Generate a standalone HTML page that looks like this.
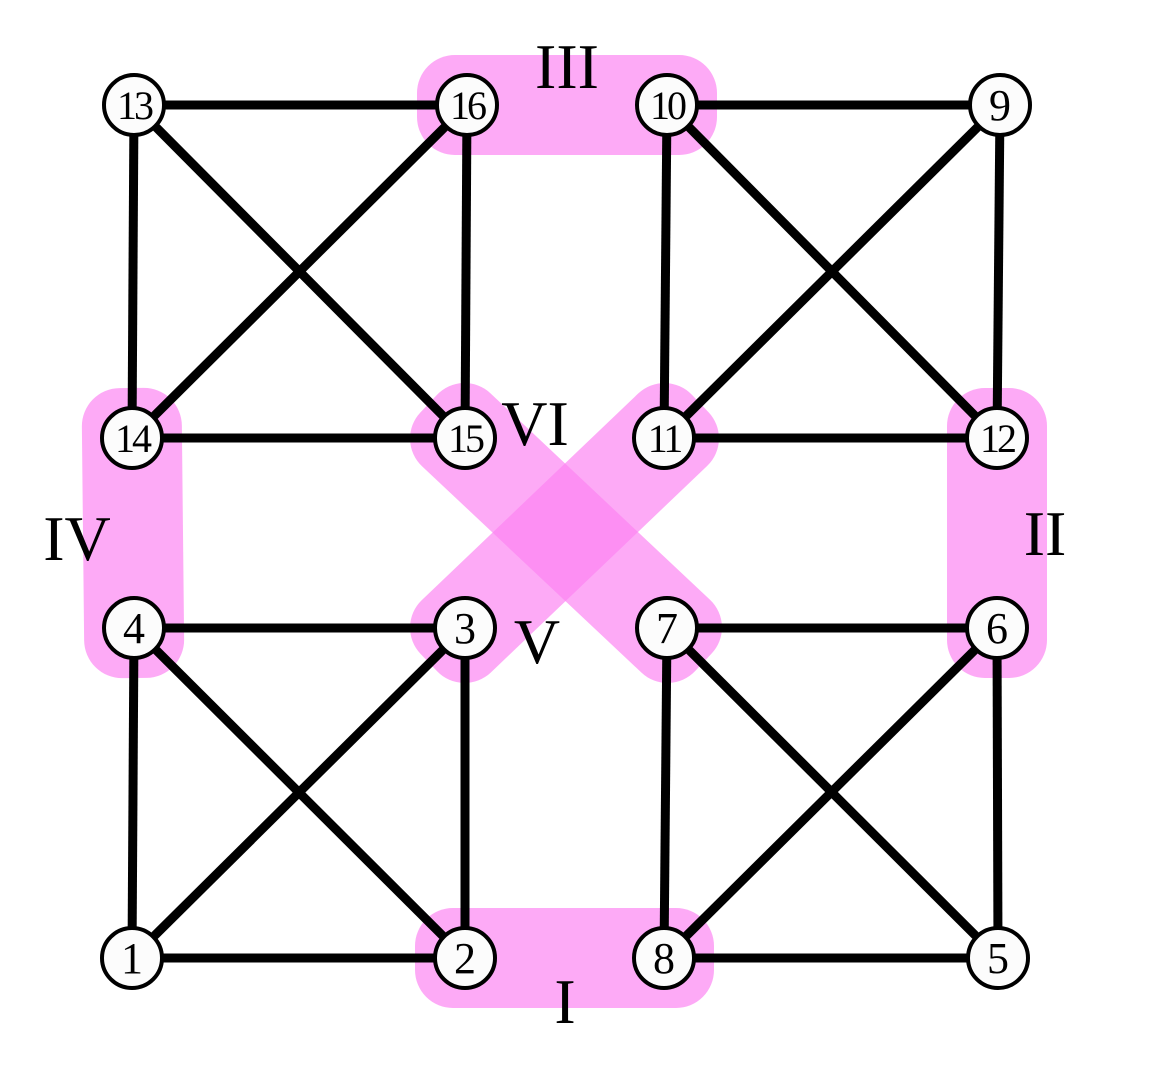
<!DOCTYPE html>
<html><head><meta charset="utf-8"><style>
html,body{margin:0;padding:0;background:#fff;}
svg{display:block;}
text{font-family:"Liberation Serif","DejaVu Serif",serif;}
</style></head><body>
<svg id="g" width="1154" height="1075" viewBox="0 0 1154 1075" xmlns="http://www.w3.org/2000/svg">
<g id="bands"></g>
<g id="edges"></g>
<g id="nodes"></g>
<g id="labels"></g>
</svg>
<script>
const nodeIds=[13,16,10,9,14,15,11,12,4,3,7,6,1,2,8,5];
const nodeX=[134,467,667,1000,132,465,664,997,134,465,667,997,132,465,664,998];
const nodeY=[105,105,105,105,438,438,438,438,628,628,628,628,958,958,958,958];
const edgeList=[[13,16],[13,14],[13,15],[16,14],[16,15],[14,15],[10,9],[10,11],[10,12],[9,11],[9,12],[11,12],[4,3],[4,1],[4,2],[3,1],[3,2],[1,2],[7,6],[7,8],[7,5],[6,8],[6,5],[8,5]];
const bandPairs=[[2,8],[16,10],[14,4],[12,6],[3,11],[15,7]];
const bandNames=["I","III","IV","II","V","VI"];
const labelX=[565,567,77,1045,537,535];
const labelY=[1023,88,560,555,663,445];
const NS="http://www.w3.org/2000/svg";
function pos(id){const i=nodeIds.indexOf(id);return [nodeX[i],nodeY[i]];}
const bands=document.getElementById('bands');
bandPairs.forEach((p,k)=>{
  const [x1,y1]=pos(p[0]),[x2,y2]=pos(p[1]);
  const L=Math.hypot(x2-x1,y2-y1)+100;
  const ang=Math.atan2(y2-y1,x2-x1)*180/Math.PI;
  const cx=(x1+x2)/2,cy=(y1+y2)/2;
  const r=document.createElementNS(NS,'rect');
  r.setAttribute('x',cx-L/2);r.setAttribute('y',cy-50);
  r.setAttribute('width',L);r.setAttribute('height',100);
  r.setAttribute('rx',38);
  r.setAttribute('fill','rgb(252,130,242)');r.setAttribute('fill-opacity','0.68');
  r.setAttribute('transform',`rotate(${ang} ${cx} ${cy})`);
  
  
  bands.appendChild(r);
});
const edges=document.getElementById('edges');
edgeList.forEach(e=>{
  const [x1,y1]=pos(e[0]),[x2,y2]=pos(e[1]);
  const l=document.createElementNS(NS,'line');
  l.setAttribute('x1',x1);l.setAttribute('y1',y1);l.setAttribute('x2',x2);l.setAttribute('y2',y2);
  l.setAttribute('stroke','#000');l.setAttribute('stroke-width','9');
  
  
  edges.appendChild(l);
});
const nodes=document.getElementById('nodes');
nodeIds.forEach((id,i)=>{
  const g=document.createElementNS(NS,'g');
  
  
  const c=document.createElementNS(NS,'circle');
  c.setAttribute('cx',nodeX[i]);c.setAttribute('cy',nodeY[i]);c.setAttribute('r',30);
  c.setAttribute('fill','#fcfcfc');c.setAttribute('stroke','#000');c.setAttribute('stroke-width','4');
  const t=document.createElementNS(NS,'text');
  t.setAttribute('x',nodeX[i]);t.setAttribute('y',nodeY[i]+(id>9?14:15));
  t.setAttribute('text-anchor','middle');t.setAttribute('font-size',id>9?40:44);
  if(id>9)t.setAttribute('letter-spacing','-3');
  t.textContent=id;
  g.appendChild(c);g.appendChild(t);nodes.appendChild(g);
});
const labels=document.getElementById('labels');
bandNames.forEach((n,k)=>{
  const t=document.createElementNS(NS,'text');
  t.setAttribute('x',labelX[k]);t.setAttribute('y',labelY[k]);
  t.setAttribute('text-anchor','middle');t.setAttribute('font-size','64');
  t.textContent=n;
  
  
  labels.appendChild(t);
});
</script>
</body></html>
